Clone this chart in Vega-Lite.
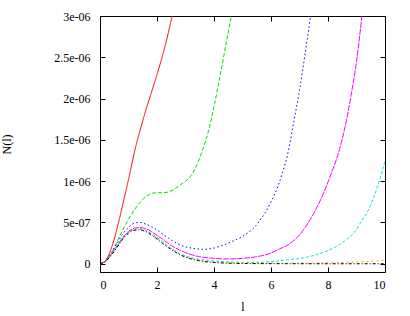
{
  "$schema": "https://vega.github.io/schema/vega-lite/v6.json",
  "width": 285,
  "height": 256,
  "autosize": {"type": "none"},
  "padding": {"left": 100, "top": 16, "right": 25, "bottom": 44},
  "background": "white",
  "config": {
    "view": {"stroke": "black", "strokeWidth": 1},
    "axis": {
      "grid": false,
      "domain": false,
      "tickColor": "black",
      "tickWidth": 1,
      "tickSize": -5,
      "labelFont": "Liberation Serif",
      "labelFontSize": 12,
      "labelColor": "black",
      "titleFont": "Liberation Serif",
      "titleFontSize": 12,
      "titleFontWeight": "normal",
      "titleColor": "black"
    }
  },
  "datasets": {
    "curves": [
      {"s": "a", "l": 0, "N": 0}, {"s": "a", "l": 0.1, "N": 1e-8}, {"s": "a", "l": 0.2, "N": 4e-8}, {"s": "a", "l": 0.3, "N": 1e-7}, {"s": "a", "l": 0.4, "N": 1.9e-7}, {"s": "a", "l": 0.5, "N": 3e-7}, {"s": "a", "l": 0.6, "N": 4.3e-7}, {"s": "a", "l": 0.7, "N": 5.7e-7}, {"s": "a", "l": 0.8, "N": 7.2e-7}, {"s": "a", "l": 0.9, "N": 8.7e-7}, {"s": "a", "l": 1.0, "N": 1.02e-6}, {"s": "a", "l": 1.1, "N": 1.18e-6}, {"s": "a", "l": 1.2, "N": 1.34e-6}, {"s": "a", "l": 1.3, "N": 1.48e-6}, {"s": "a", "l": 1.4, "N": 1.61e-6}, {"s": "a", "l": 1.5, "N": 1.73e-6}, {"s": "a", "l": 1.6, "N": 1.85e-6}, {"s": "a", "l": 1.8, "N": 2.07e-6}, {"s": "a", "l": 2.0, "N": 2.29e-6}, {"s": "a", "l": 2.2, "N": 2.53e-6}, {"s": "a", "l": 2.3, "N": 2.66e-6}, {"s": "a", "l": 2.4, "N": 2.8e-6}, {"s": "a", "l": 2.5, "N": 2.95e-6}, {"s": "a", "l": 2.56, "N": 3.05e-6},
      {"s": "b", "l": 0, "N": 0}, {"s": "b", "l": 0.2, "N": 3e-8}, {"s": "b", "l": 0.4, "N": 1.2e-7}, {"s": "b", "l": 0.6, "N": 2.7e-7}, {"s": "b", "l": 0.8, "N": 4.1e-7}, {"s": "b", "l": 1.0, "N": 5.4e-7}, {"s": "b", "l": 1.2, "N": 6.5e-7}, {"s": "b", "l": 1.4, "N": 7.4e-7}, {"s": "b", "l": 1.6, "N": 8.1e-7}, {"s": "b", "l": 1.8, "N": 8.5e-7}, {"s": "b", "l": 2.0, "N": 8.6e-7}, {"s": "b", "l": 2.2, "N": 8.6e-7}, {"s": "b", "l": 2.4, "N": 8.7e-7}, {"s": "b", "l": 2.6, "N": 9e-7}, {"s": "b", "l": 2.8, "N": 9.5e-7}, {"s": "b", "l": 3.0, "N": 1e-6}, {"s": "b", "l": 3.2, "N": 1.07e-6}, {"s": "b", "l": 3.4, "N": 1.2e-6}, {"s": "b", "l": 3.6, "N": 1.38e-6}, {"s": "b", "l": 3.8, "N": 1.6e-6}, {"s": "b", "l": 4.0, "N": 1.9e-6}, {"s": "b", "l": 4.2, "N": 2.25e-6}, {"s": "b", "l": 4.4, "N": 2.62e-6}, {"s": "b", "l": 4.6, "N": 2.98e-6}, {"s": "b", "l": 4.65, "N": 3.06e-6},
      {"s": "c", "l": 0, "N": 0}, {"s": "c", "l": 0.2, "N": 4e-8}, {"s": "c", "l": 0.4, "N": 1.4e-7}, {"s": "c", "l": 0.6, "N": 2.5e-7}, {"s": "c", "l": 0.8, "N": 3.6e-7}, {"s": "c", "l": 1.0, "N": 4.4e-7}, {"s": "c", "l": 1.2, "N": 4.9e-7}, {"s": "c", "l": 1.4, "N": 5e-7}, {"s": "c", "l": 1.6, "N": 4.8e-7}, {"s": "c", "l": 1.8, "N": 4.5e-7}, {"s": "c", "l": 2.0, "N": 4.1e-7}, {"s": "c", "l": 2.2, "N": 3.6e-7}, {"s": "c", "l": 2.4, "N": 3.1e-7}, {"s": "c", "l": 2.6, "N": 2.65e-7}, {"s": "c", "l": 2.8, "N": 2.3e-7}, {"s": "c", "l": 3.0, "N": 2.05e-7}, {"s": "c", "l": 3.2, "N": 1.9e-7}, {"s": "c", "l": 3.4, "N": 1.8e-7}, {"s": "c", "l": 3.6, "N": 1.75e-7}, {"s": "c", "l": 3.8, "N": 1.78e-7}, {"s": "c", "l": 4.0, "N": 1.9e-7}, {"s": "c", "l": 4.2, "N": 2.1e-7}, {"s": "c", "l": 4.4, "N": 2.35e-7}, {"s": "c", "l": 4.6, "N": 2.65e-7}, {"s": "c", "l": 4.8, "N": 2.95e-7}, {"s": "c", "l": 5.0, "N": 3.3e-7}, {"s": "c", "l": 5.2, "N": 3.8e-7}, {"s": "c", "l": 5.4, "N": 4.35e-7}, {"s": "c", "l": 5.6, "N": 5.2e-7}, {"s": "c", "l": 5.8, "N": 6.2e-7}, {"s": "c", "l": 6.0, "N": 7.5e-7}, {"s": "c", "l": 6.2, "N": 9e-7}, {"s": "c", "l": 6.4, "N": 1.1e-6}, {"s": "c", "l": 6.6, "N": 1.35e-6}, {"s": "c", "l": 6.8, "N": 1.72e-6}, {"s": "c", "l": 7.0, "N": 2.1e-6}, {"s": "c", "l": 7.2, "N": 2.55e-6}, {"s": "c", "l": 7.4, "N": 3.03e-6},
      {"s": "d", "l": 0, "N": 0}, {"s": "d", "l": 0.2, "N": 3.5e-8}, {"s": "d", "l": 0.4, "N": 1.2e-7}, {"s": "d", "l": 0.6, "N": 2.2e-7}, {"s": "d", "l": 0.8, "N": 3.2e-7}, {"s": "d", "l": 1.0, "N": 3.9e-7}, {"s": "d", "l": 1.2, "N": 4.3e-7}, {"s": "d", "l": 1.4, "N": 4.4e-7}, {"s": "d", "l": 1.6, "N": 4.25e-7}, {"s": "d", "l": 1.8, "N": 3.9e-7}, {"s": "d", "l": 2.0, "N": 3.45e-7}, {"s": "d", "l": 2.2, "N": 2.95e-7}, {"s": "d", "l": 2.4, "N": 2.45e-7}, {"s": "d", "l": 2.6, "N": 2e-7}, {"s": "d", "l": 2.8, "N": 1.65e-7}, {"s": "d", "l": 3.0, "N": 1.35e-7}, {"s": "d", "l": 3.2, "N": 1.1e-7}, {"s": "d", "l": 3.5, "N": 8.5e-8}, {"s": "d", "l": 4.0, "N": 6.5e-8}, {"s": "d", "l": 4.5, "N": 5.8e-8}, {"s": "d", "l": 5.0, "N": 6.5e-8}, {"s": "d", "l": 5.5, "N": 8.5e-8}, {"s": "d", "l": 6.0, "N": 1.3e-7}, {"s": "d", "l": 6.3, "N": 1.8e-7}, {"s": "d", "l": 6.6, "N": 2.3e-7}, {"s": "d", "l": 7.0, "N": 3.5e-7}, {"s": "d", "l": 7.2, "N": 4.4e-7}, {"s": "d", "l": 7.5, "N": 6.1e-7}, {"s": "d", "l": 7.8, "N": 8.2e-7}, {"s": "d", "l": 8.1, "N": 1.08e-6}, {"s": "d", "l": 8.4, "N": 1.38e-6}, {"s": "d", "l": 8.6, "N": 1.66e-6}, {"s": "d", "l": 8.8, "N": 2.02e-6}, {"s": "d", "l": 9.0, "N": 2.45e-6}, {"s": "d", "l": 9.2, "N": 3.03e-6},
      {"s": "e", "l": 0, "N": 0}, {"s": "e", "l": 0.2, "N": 3e-8}, {"s": "e", "l": 0.4, "N": 1.15e-7}, {"s": "e", "l": 0.6, "N": 2.1e-7}, {"s": "e", "l": 0.8, "N": 3.1e-7}, {"s": "e", "l": 1.0, "N": 3.8e-7}, {"s": "e", "l": 1.2, "N": 4.15e-7}, {"s": "e", "l": 1.4, "N": 4.25e-7}, {"s": "e", "l": 1.6, "N": 4.05e-7}, {"s": "e", "l": 1.8, "N": 3.65e-7}, {"s": "e", "l": 2.0, "N": 3.2e-7}, {"s": "e", "l": 2.2, "N": 2.65e-7}, {"s": "e", "l": 2.4, "N": 2.1e-7}, {"s": "e", "l": 2.6, "N": 1.65e-7}, {"s": "e", "l": 2.8, "N": 1.25e-7}, {"s": "e", "l": 3.0, "N": 9.5e-8}, {"s": "e", "l": 3.2, "N": 7.5e-8}, {"s": "e", "l": 3.6, "N": 5e-8}, {"s": "e", "l": 4.0, "N": 3.5e-8}, {"s": "e", "l": 4.5, "N": 2.2e-8}, {"s": "e", "l": 5.0, "N": 1.7e-8}, {"s": "e", "l": 5.5, "N": 1.7e-8}, {"s": "e", "l": 6.0, "N": 2.5e-8}, {"s": "e", "l": 6.5, "N": 4.5e-8}, {"s": "e", "l": 7.0, "N": 6.5e-8}, {"s": "e", "l": 7.5, "N": 1e-7}, {"s": "e", "l": 8.0, "N": 1.6e-7}, {"s": "e", "l": 8.3, "N": 2.1e-7}, {"s": "e", "l": 8.6, "N": 2.8e-7}, {"s": "e", "l": 8.9, "N": 3.7e-7}, {"s": "e", "l": 9.2, "N": 5.3e-7}, {"s": "e", "l": 9.4, "N": 6.4e-7}, {"s": "e", "l": 9.6, "N": 8e-7}, {"s": "e", "l": 9.8, "N": 1e-6}, {"s": "e", "l": 10.0, "N": 1.24e-6},
      {"s": "f", "l": 0, "N": 0}, {"s": "f", "l": 0.2, "N": 3e-8}, {"s": "f", "l": 0.4, "N": 1.1e-7}, {"s": "f", "l": 0.6, "N": 2e-7}, {"s": "f", "l": 0.8, "N": 3e-7}, {"s": "f", "l": 1.0, "N": 3.7e-7}, {"s": "f", "l": 1.2, "N": 4.1e-7}, {"s": "f", "l": 1.4, "N": 4.15e-7}, {"s": "f", "l": 1.6, "N": 3.95e-7}, {"s": "f", "l": 1.8, "N": 3.55e-7}, {"s": "f", "l": 2.0, "N": 3.05e-7}, {"s": "f", "l": 2.2, "N": 2.5e-7}, {"s": "f", "l": 2.4, "N": 2e-7}, {"s": "f", "l": 2.6, "N": 1.55e-7}, {"s": "f", "l": 2.8, "N": 1.15e-7}, {"s": "f", "l": 3.0, "N": 8.5e-8}, {"s": "f", "l": 3.3, "N": 5.5e-8}, {"s": "f", "l": 3.6, "N": 3.5e-8}, {"s": "f", "l": 4.0, "N": 2e-8}, {"s": "f", "l": 4.5, "N": 1e-8}, {"s": "f", "l": 5.0, "N": 7e-9}, {"s": "f", "l": 6.0, "N": 6e-9}, {"s": "f", "l": 7.0, "N": 8e-9}, {"s": "f", "l": 8.0, "N": 1.2e-8}, {"s": "f", "l": 8.5, "N": 1.5e-8}, {"s": "f", "l": 9.0, "N": 2.2e-8}, {"s": "f", "l": 9.5, "N": 3e-8}, {"s": "f", "l": 10.0, "N": 4.5e-8},
      {"s": "g", "l": 0, "N": 0}, {"s": "g", "l": 0.2, "N": 3e-8}, {"s": "g", "l": 0.4, "N": 1.05e-7}, {"s": "g", "l": 0.6, "N": 2e-7}, {"s": "g", "l": 0.8, "N": 3e-7}, {"s": "g", "l": 1.0, "N": 3.7e-7}, {"s": "g", "l": 1.2, "N": 4.05e-7}, {"s": "g", "l": 1.4, "N": 4.1e-7}, {"s": "g", "l": 1.6, "N": 3.9e-7}, {"s": "g", "l": 1.8, "N": 3.5e-7}, {"s": "g", "l": 2.0, "N": 3e-7}, {"s": "g", "l": 2.2, "N": 2.45e-7}, {"s": "g", "l": 2.4, "N": 1.95e-7}, {"s": "g", "l": 2.6, "N": 1.5e-7}, {"s": "g", "l": 2.8, "N": 1.1e-7}, {"s": "g", "l": 3.0, "N": 8e-8}, {"s": "g", "l": 3.3, "N": 5e-8}, {"s": "g", "l": 3.6, "N": 3e-8}, {"s": "g", "l": 4.0, "N": 1.5e-8}, {"s": "g", "l": 4.5, "N": 7e-9}, {"s": "g", "l": 5.0, "N": 3e-9}, {"s": "g", "l": 6.0, "N": 1e-9}, {"s": "g", "l": 8.0, "N": 0}, {"s": "g", "l": 10.0, "N": 0}
    ]
  },
  "data": {"name": "curves"},
  "layer": [
    {
      "mark": {"type": "line", "strokeWidth": 1, "clip": true, "interpolate": "monotone"},
      "encoding": {
        "x": {
          "field": "l", "type": "quantitative",
          "scale": {"domain": [0, 10], "nice": false, "zero": false},
          "axis": {"orient": "bottom", "values": [0, 2, 4, 6, 8, 10], "title": "l", "labelPadding": 12, "titlePadding": 11}
        },
        "y": {
          "field": "N", "type": "quantitative",
          "scale": {"domain": [-1e-7, 3e-6], "nice": false, "zero": false},
          "axis": {
            "orient": "left",
            "values": [0, 5e-7, 1e-6, 1.5e-6, 2e-6, 2.5e-6, 3e-6],
            "labelExpr": "datum.value == 0 ? '0' : replace(format(datum.value, '~e'), 'e-', 'e-0')",
            "title": "N(l)", "labelPadding": 15, "titlePadding": 40
          }
        },
        "color": {
          "field": "s", "type": "nominal", "legend": null,
          "scale": {"domain": ["a", "b", "c", "d", "e", "f", "g"], "range": ["#ff0000", "#00e000", "#0000ff", "#ff00ff", "#00e5e5", "#ffa500", "#000000"]}
        },
        "strokeDash": {
          "field": "s", "type": "nominal", "legend": null,
          "scale": {"domain": ["a", "b", "c", "d", "e", "f", "g"], "range": [[1, 0], [4, 2], [1.5, 2.5], [6, 1], [3, 2], [2, 3], [3, 2, 1, 2]]}
        }
      }
    },
    {
      "mark": {"type": "line", "opacity": 0},
      "encoding": {
        "x": {"field": "l", "type": "quantitative", "axis": {"orient": "top", "values": [0, 2, 4, 6, 8, 10], "labels": false, "title": null}},
        "y": {"field": "N", "type": "quantitative", "axis": {"orient": "right", "values": [0, 5e-7, 1e-6, 1.5e-6, 2e-6, 2.5e-6, 3e-6], "labels": false, "title": null}},
        "detail": {"field": "s"}
      }
    }
  ],
  "resolve": {"axis": {"x": "independent", "y": "independent"}}
}
